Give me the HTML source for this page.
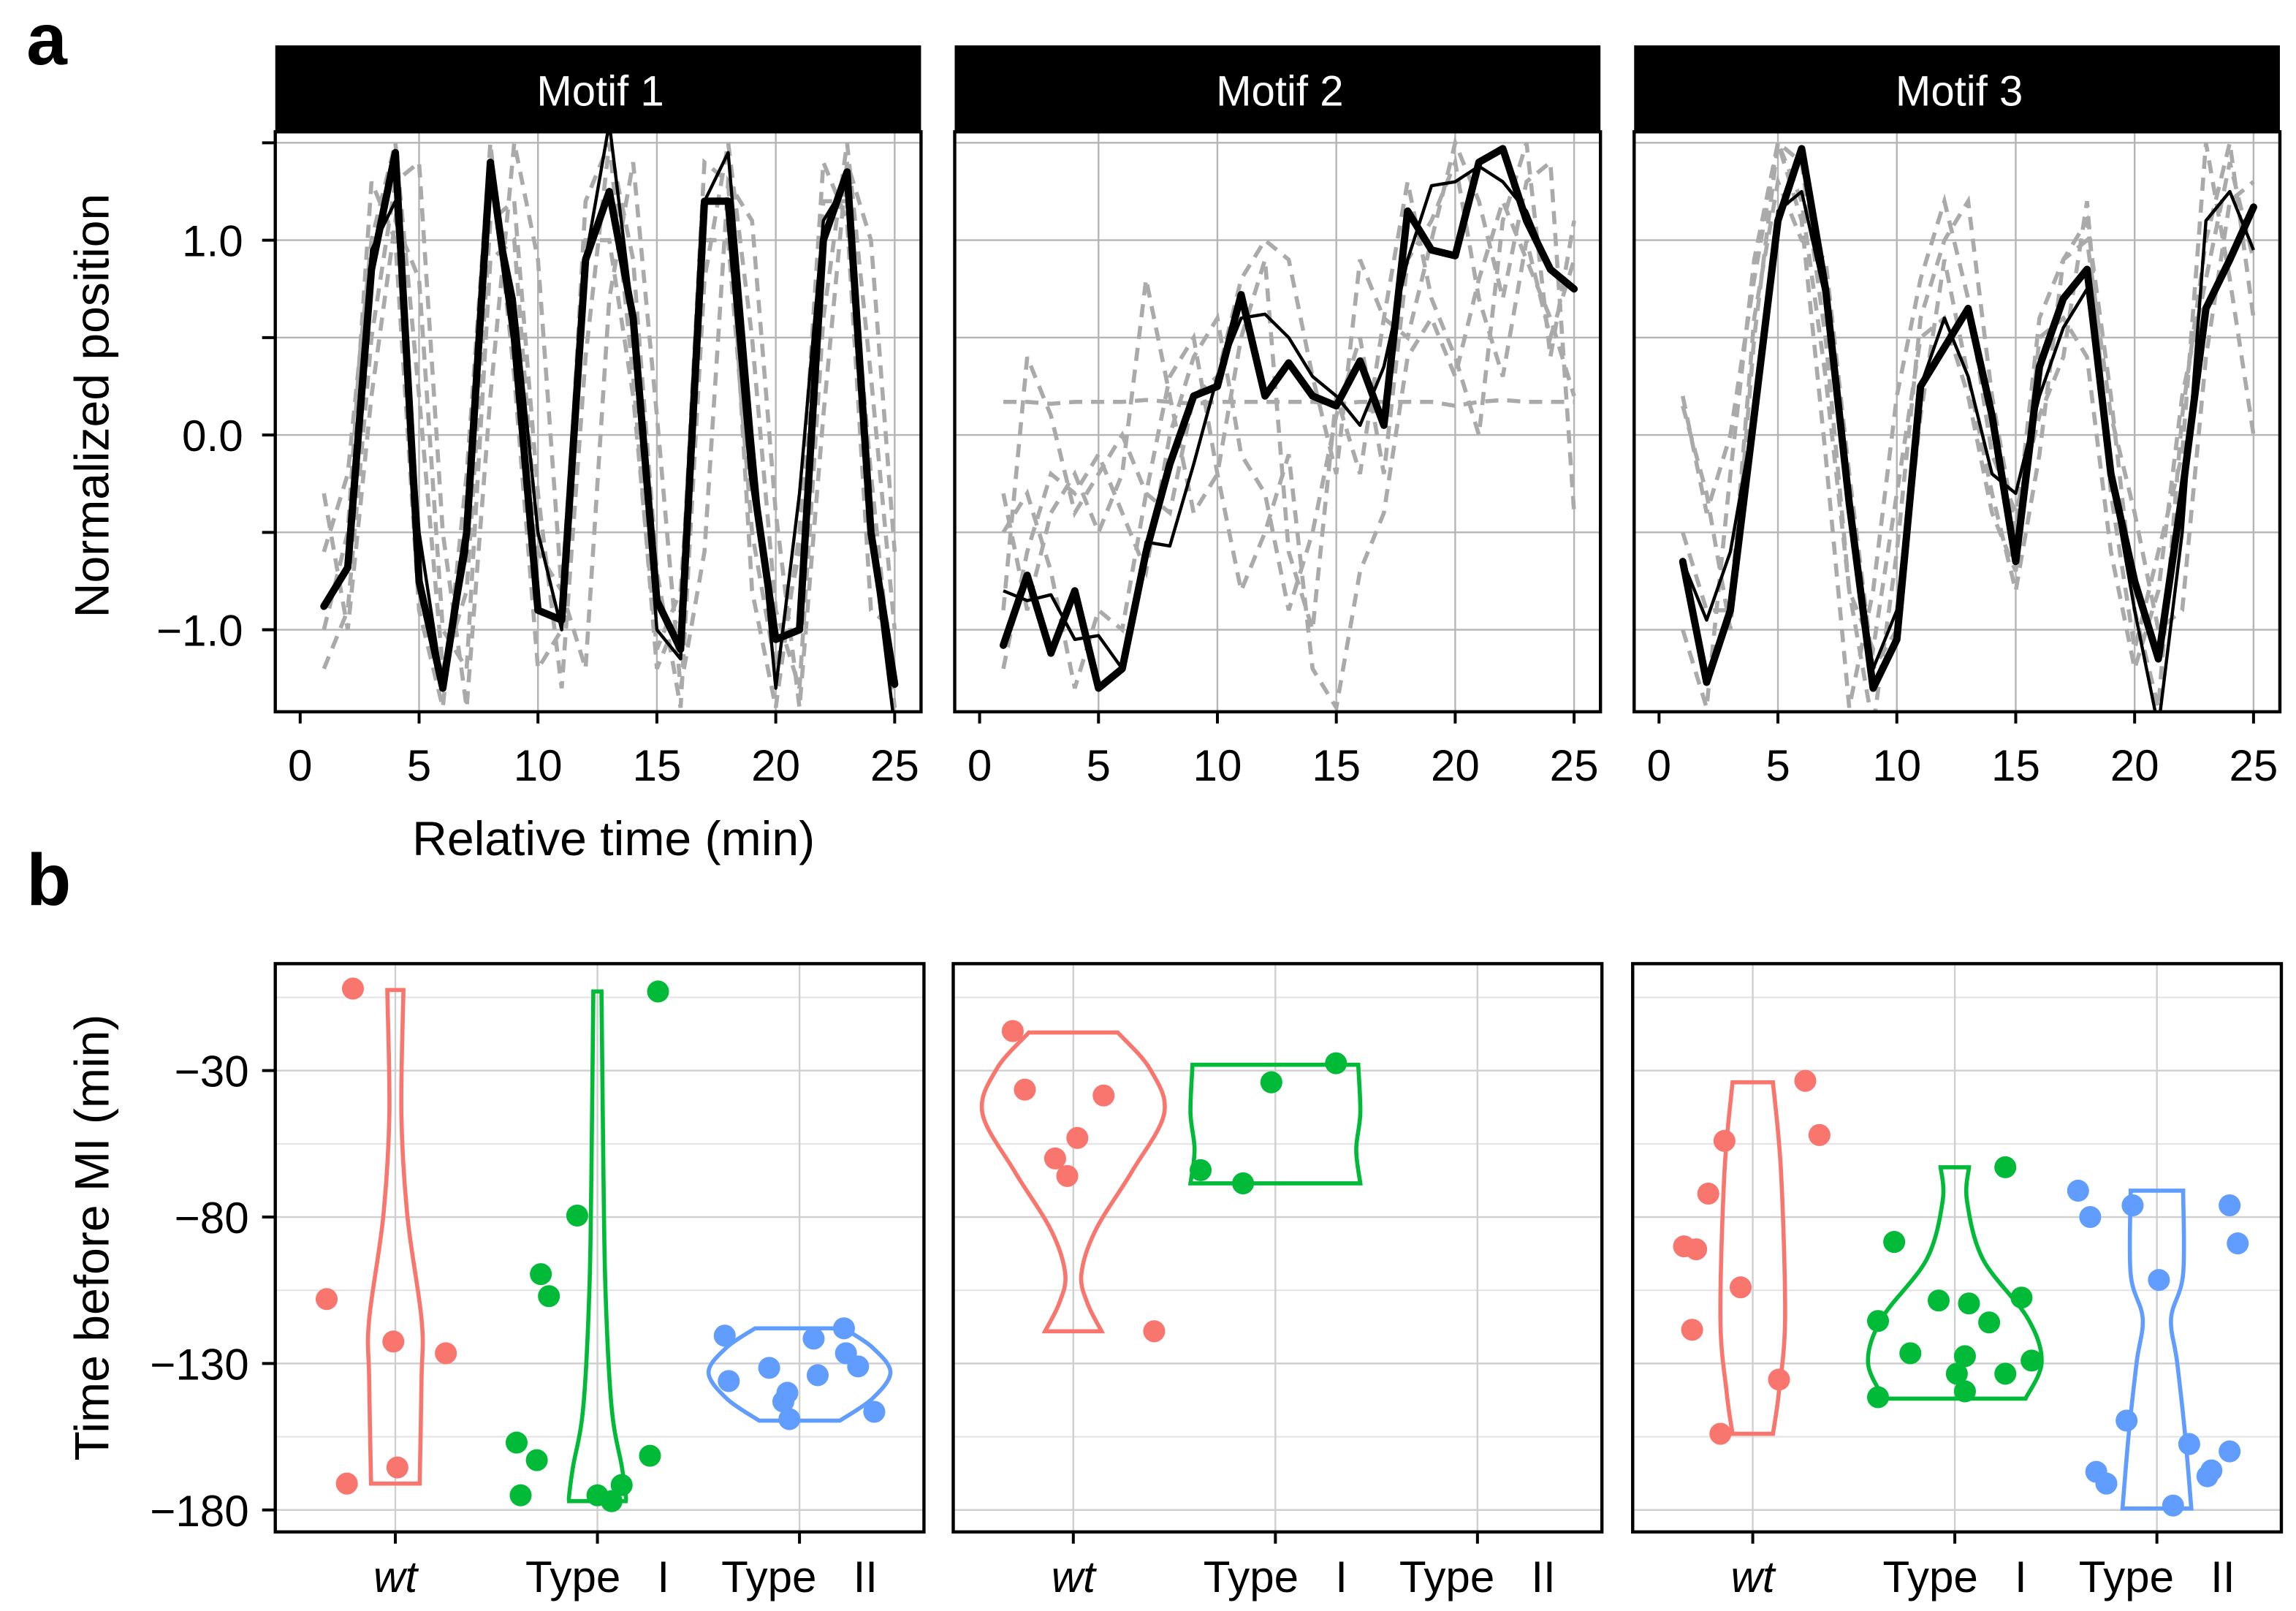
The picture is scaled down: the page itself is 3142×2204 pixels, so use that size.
<!DOCTYPE html>
<html><head><meta charset="utf-8">
<style>
html,body{margin:0;padding:0;background:#fff;}
svg{display:block;font-family:"Liberation Sans",sans-serif;}
</style></head>
<body>
<svg id="fig" width="3142" height="2204" viewBox="0 0 1568 1100" preserveAspectRatio="none" xmlns="http://www.w3.org/2000/svg">
<defs>
<clipPath id="ca0"><rect x="188" y="90" width="441" height="396"/></clipPath>
<clipPath id="ca1"><rect x="652" y="90" width="441" height="396"/></clipPath>
<clipPath id="ca2"><rect x="1116" y="90" width="441" height="396"/></clipPath>
</defs>
<text x="18" y="44" font-size="50" font-weight="bold">a</text>
<text x="18" y="618" font-size="50" font-weight="bold">b</text>
<text transform="translate(74,277) rotate(-90)" text-anchor="middle" font-size="33">Normalized position</text>
<text x="419" y="584" text-anchor="middle" font-size="33">Relative time (min)</text>
<text transform="translate(74,845) rotate(-90)" text-anchor="middle" font-size="33">Time before MI (min)</text>
<g id="ga"></g>
<g id="gb"></g>
</svg>
<script>
// ---------- Panel a data ----------
const motifNames = ["Motif 1","Motif 2","Motif 3"];
const xTicksA = [0,5,10,15,20,25];
const yTicksA = [1.0,0.0,-1.0];
const yTickLabelsA = ["1.0","0.0","\u22121.0"];
const m1Bold = [-0.88,-0.68,0.85,1.45,-0.75,-1.3,-0.5,1.4,0.5,-0.9,-0.95,0.9,1.25,0.6,-0.85,-1.1,1.2,1.2,-0.2,-1.05,-1.0,1.0,1.35,-0.5,-1.28];
const m1Thin = [-0.88,-0.68,0.95,1.2,-0.5,-1.3,-0.6,1.3,0.7,-0.5,-1.0,0.9,1.6,0.6,-1.0,-1.15,1.2,1.45,0.0,-1.3,-0.3,1.1,1.3,-0.5,-1.5];
const m2Bold = [-1.08,-0.72,-1.12,-0.8,-1.3,-1.2,-0.6,-0.15,0.2,0.25,0.72,0.2,0.37,0.2,0.15,0.38,0.05,1.15,0.95,0.92,1.4,1.47,1.1,0.85,0.75];
const m2Thin = [-0.8,-0.85,-0.82,-1.05,-1.03,-1.2,-0.55,-0.57,-0.15,0.3,0.6,0.62,0.5,0.3,0.2,0.05,0.35,0.9,1.28,1.3,1.38,1.3,1.15,0.85,0.75];
const m3Bold = [-0.65,-1.27,-0.9,0.1,1.1,1.47,0.75,-0.35,-1.3,-1.05,0.25,0.45,0.65,0.1,-0.65,0.35,0.7,0.85,-0.2,-0.75,-1.15,-0.3,0.65,0.9,1.17];
const m3Thin = [-0.65,-0.95,-0.6,0.1,1.15,1.25,0.7,-0.35,-1.2,-0.9,0.25,0.6,0.3,-0.2,-0.3,0.2,0.55,0.75,-0.2,-0.9,-1.5,-0.5,1.1,1.25,0.95];
const g1a = [-0.6,-0.2,1.0,1.5,0.2,-1.2,-0.8,1.1,1.2,-0.3,-1.3,0.4,1.5,0.9,-0.7,-1.4,0.8,1.5,0.5,-0.9,-1.3,0.6,1.5,0.3,-1.0];
const g1b = [-1.2,-0.9,0.5,1.3,1.4,-0.5,-1.4,0.2,1.5,0.9,-0.8,-1.2,0.7,1.4,0.1,-1.3,-0.6,1.3,1.1,-0.4,-1.4,0.1,1.4,1.0,-0.6];
const g1c = [-0.3,-1.0,0.2,1.1,0.8,-1.0,-1.2,0.9,1.0,-0.6,-0.8,1.0,1.0,0.2,-1.1,-0.8,1.0,1.0,-0.5,-1.2,-0.6,1.2,1.2,-0.2,-1.4];
const g1d = [-1.0,-0.5,1.3,1.0,-0.9,-1.4,-0.2,1.5,0.3,-1.2,-1.0,1.2,1.5,0.3,-1.2,-0.9,1.4,1.3,-0.8,-1.4,-0.5,1.4,1.1,-0.9,-1.0];
const g2a = [-0.9,0.4,0.1,-0.4,-0.2,0.0,-0.3,-0.4,0.2,0.3,0.8,1.0,0.9,0.3,-0.2,0.9,0.6,0.5,1.0,1.5,1.2,0.7,1.3,1.4,-0.4];
const g2b = [0.17,0.17,0.16,0.17,0.17,0.17,0.18,0.17,0.16,0.17,0.17,0.17,0.17,0.17,0.16,0.17,0.17,0.17,0.17,0.15,0.17,0.18,0.17,0.17,0.17];
const g2c = [-0.5,-0.3,-0.7,-1.3,-0.9,-1.0,-0.3,0.3,0.5,-0.2,-0.8,-0.5,-0.1,-1.2,-1.4,-0.7,-0.4,0.4,0.6,0.3,0.8,1.2,0.9,0.6,0.2];
const g2d = [-1.2,-0.6,-0.2,-0.3,-0.1,-0.4,-0.7,0.0,0.4,0.6,-0.1,-0.3,-0.9,-0.5,0.1,0.5,-0.2,0.9,1.1,1.4,0.7,0.3,1.0,0.5,0.9];
const g2e = [-0.3,-0.9,-0.4,-0.2,-0.5,-0.2,0.8,0.2,-0.4,-0.2,0.5,0.9,-0.6,-1.0,0.2,-0.2,0.6,1.3,0.7,0.4,0.0,1.1,1.5,0.4,1.1];
const g3a = [0.15,-0.3,-1.0,0.5,1.5,1.2,0.3,-0.8,-1.5,-0.6,0.6,1.0,1.2,0.2,-0.5,0.6,0.9,1.1,0.2,-0.9,-1.4,0.1,1.0,1.5,0.6];
const g3b = [-1.0,-1.4,-0.2,0.9,1.5,1.4,0.5,-0.8,-1.1,-0.3,0.5,0.6,0.2,-0.4,-0.7,0.5,0.6,0.4,-0.6,-1.2,-0.8,0.2,0.8,1.4,0.9];
const g3c = [-0.5,-0.9,-0.9,0.6,1.3,1.0,0.9,-0.2,-1.2,-1.0,0.1,0.9,0.3,-0.3,-0.8,-0.1,0.9,1.0,0.1,-0.4,-1.0,-0.9,0.4,1.2,1.3];
const g3d = [0.2,-0.4,0.0,0.8,1.5,1.1,-0.1,-1.4,-0.8,0.2,0.8,1.2,0.7,-0.1,-0.4,0.1,0.4,1.2,-0.3,-1.1,-0.6,-0.1,1.5,0.8,0.0];

// ---------- Panel b data ----------
const categories = ["wt","Type I","Type II"];
const categoryLabels = ["wt","Type\u00a0\u00a0\u00a0I","Type\u00a0\u00a0\u00a0II"];
const yTicksB = [-30,-80,-130,-180];
const yMinorB = [-5,-55,-105,-155];
const p1wt = [[-2,-0.21],[-108,-0.34],[-122.5,-0.01],[-126.5,0.25],[-165.5,0.01],[-171,-0.24]];
const p1t1 = [[-3,0.3],[-79.5,-0.1],[-99.5,-0.28],[-107,-0.24],[-157,-0.4],[-163,-0.3],[-161.5,0.26],[-175,-0.38],[-175,0],[-177,0.07],[-171.5,0.12]];
const p1t2 = [[-120.5,-0.37],[-136,-0.35],[-131.5,-0.15],[-143,-0.08],[-149,-0.05],[-140,-0.06],[-121.5,0.07],[-134,0.09],[-118,0.22],[-126.5,0.23],[-131,0.29],[-146.5,0.37]];
const p2wt = [[-16.5,-0.3],[-36.5,-0.24],[-38.5,0.15],[-53,0.02],[-60,-0.09],[-66,-0.03],[-119,0.4]];
const p2t1 = [[-34,-0.02],[-27.5,0.3],[-64,-0.37],[-68.5,-0.16]];
const p3wt = [[-33.5,0.26],[-52,0.33],[-54,-0.14],[-72,-0.22],[-90,-0.34],[-91,-0.28],[-104,-0.06],[-118.5,-0.3],[-135.5,0.13],[-154,-0.16]];
const p3t1 = [[-63,0.25],[-88.5,-0.3],[-108.5,-0.08],[-109.5,0.07],[-107.5,0.33],[-116,0.17],[-115.5,-0.38],[-126.5,-0.22],[-127.5,0.05],[-133.5,0.01],[-133.5,0.25],[-129,0.38],[-141.5,-0.38],[-139.5,0.05]];
const p3t2 = [[-71,-0.39],[-80,-0.33],[-76,-0.12],[-76,0.36],[-89,0.4],[-101.5,0.01],[-149.5,-0.15],[-167,-0.3],[-171,-0.25],[-157.5,0.16],[-160,0.36],[-166.5,0.27],[-168.5,0.25],[-178.5,0.08]];
const v1wt = [[-2.5,0.04],[-45,0.03],[-80,0.06],[-115,0.13],[-135,0.13],[-171,0.12]];
const v1t1 = [[-3,0.02],[-65,0.03],[-105,0.04],[-145,0.07],[-165,0.12],[-175,0.14],[-177,0.14]];
const v1t2 = [[-118,0.22],[-124.5,0.36],[-133,0.45],[-142,0.36],[-149.5,0.2]];
const v2wt = [[-17,0.22],[-29.5,0.38],[-44.5,0.45],[-64.5,0.29],[-84.5,0.11],[-99.5,0.04],[-109.5,0.07],[-119,0.14]];
const v2t1 = [[-28,0.41],[-44.5,0.42],[-57,0.4],[-68.5,0.42]];
const v3wt = [[-34,0.1],[-64.5,0.14],[-114.5,0.16],[-139.5,0.13],[-154,0.1]];
const v3t1 = [[-63,0.07],[-74.5,0.06],[-94.5,0.14],[-114.5,0.36],[-129.5,0.43],[-142,0.35]];
const v3t2 = [[-71,0.13],[-99.5,0.13],[-114.5,0.07],[-129.5,0.1],[-154.5,0.14],[-179.5,0.17]];

const NS="http://www.w3.org/2000/svg";
function mk(tag,attrs,parent){const e=document.createElementNS(NS,tag);for(const k in attrs)e.setAttribute(k,attrs[k]);parent.appendChild(e);return e;}

const ga=document.getElementById('ga');
const panelsA=[188,652,1116];
const seriesA=[[m1Bold,m1Thin,[g1a,g1b,g1c,g1d]],[m2Bold,m2Thin,[g2a,g2b,g2c,g2d,g2e]],[m3Bold,m3Thin,[g3a,g3b,g3c,g3d]]];
function ya(v){return 297-133*v;}
panelsA.forEach((L,pi)=>{
  const xa=t=>L+17+16.24*t;
  const strip=mk('rect',{x:L,y:31,width:441,height:59,fill:'#000'},ga);
  
  
  const st=mk('text',{x:L+222,y:72,'text-anchor':'middle','font-size':29,fill:'#fff'},ga);
  st.textContent=motifNames[pi];
  
  
  [1.5,1.0,0.5,0,-0.5,-1.0].forEach(v=>{
    const g=mk('line',{x1:L,x2:L+441,y1:ya(v),y2:ya(v),stroke:'#b5b5b5','stroke-width':1.2},ga);
    
  });
  xTicksA.slice(1).forEach(t=>{
    const g=mk('line',{x1:xa(t),x2:xa(t),y1:90,y2:486,stroke:'#b5b5b5','stroke-width':1.2},ga);
    
  });
  const cg=mk('g',{'clip-path':'url(#ca'+pi+')'},ga);
  const [bold,thin,grays]=seriesA[pi];
  const pts=arr=>arr.map((v,i)=>xa(i+1).toFixed(1)+','+ya(v).toFixed(1)).join(' ');
  grays.forEach((g,gi)=>{
    const pl=mk('polyline',{points:pts(g),fill:'none',stroke:'#aaaaaa','stroke-width':2.8,'stroke-dasharray':'9,6'},cg);
    
  });
  const tl=mk('polyline',{points:pts(thin),fill:'none',stroke:'#000','stroke-width':2.2,'stroke-linejoin':'round'},cg);
  
  const bl=mk('polyline',{points:pts(bold),fill:'none',stroke:'#000','stroke-width':5,'stroke-linejoin':'round','stroke-linecap':'round'},cg);
  
  const fr=mk('rect',{x:L,y:90,width:441,height:396,fill:'none',stroke:'#000','stroke-width':2.2},ga);
  
  xTicksA.forEach(t=>{
    mk('line',{x1:xa(t),x2:xa(t),y1:486,y2:494,stroke:'#000','stroke-width':2},ga);
    const tx=mk('text',{x:xa(t),y:533,'text-anchor':'middle','font-size':30},ga);
    tx.textContent=t;
    
  });
});
[1.5,1.0,0.5,0,-0.5,-1.0].forEach(v=>mk('line',{x1:179,x2:188,y1:ya(v),y2:ya(v),stroke:'#000','stroke-width':2},ga));
yTicksA.forEach((v,i)=>{
  const tx=mk('text',{x:166,y:ya(v)+11,'text-anchor':'end','font-size':30},ga);
  tx.textContent=yTickLabelsA[i];
  
});

const gb=document.getElementById('gb');
const panelsB=[188,651,1115];
const colors=['#F8766D','#00BA38','#619CFF'];
const pointsB=[[p1wt,p1t1,p1t2],[p2wt,p2t1,null],[p3wt,p3t1,p3t2]];
const violinsB=[[v1wt,v1t1,v1t2],[v2wt,v2t1,null],[v3wt,v3t1,v3t2]];
function yb(t){return 731-2*(t+30);}
function smoothPath(p){
  let d='M'+p[0][0]+','+p[0][1];
  for(let i=0;i<p.length-1;i++){
    const p0=p[Math.max(0,i-1)],p1=p[i],p2=p[i+1],p3=p[Math.min(p.length-1,i+2)];
    const c1=[p1[0]+(p2[0]-p0[0])/6,p1[1]+(p2[1]-p0[1])/6];
    const c2=[p2[0]-(p3[0]-p1[0])/6,p2[1]-(p3[1]-p1[1])/6];
    d+=' C'+c1[0].toFixed(1)+','+c1[1].toFixed(1)+' '+c2[0].toFixed(1)+','+c2[1].toFixed(1)+' '+p2[0].toFixed(1)+','+p2[1].toFixed(1);
  }
  return d;
}
panelsB.forEach((L,pi)=>{
  const W=443, unit=138;
  const xc=ci=>L+82+unit*ci;
  yMinorB.forEach(v=>mk('line',{x1:L,x2:L+W,y1:yb(v),y2:yb(v),stroke:'#e3e3e3','stroke-width':1},gb));
  yTicksB.forEach(v=>{
    const g=mk('line',{x1:L,x2:L+W,y1:yb(v),y2:yb(v),stroke:'#cfcfcf','stroke-width':1.2},gb);
    
  });
  categories.forEach((c,ci)=>{
    mk('line',{x1:xc(ci),x2:xc(ci),y1:658,y2:1046,stroke:'#cfcfcf','stroke-width':1.2},gb);
    mk('line',{x1:xc(ci),x2:xc(ci),y1:1046,y2:1054,stroke:'#000','stroke-width':2},gb);
    const tx=mk('text',{x:xc(ci),y:1087,'text-anchor':'middle','font-size':30,'font-style':ci===0?'italic':'normal'},gb);
    tx.textContent=categoryLabels[ci];
    
    
  });
  violinsB[pi].forEach((v,ci)=>{
    if(!v)return;
    const right=v.map(([t,w])=>[xc(ci)+w*unit,yb(t)]);
    const left=v.map(([t,w])=>[xc(ci)-w*unit,yb(t)]).reverse();
    const d=smoothPath(right)+' L'+left[0][0].toFixed(1)+','+left[0][1].toFixed(1)+' '+smoothPath(left).slice(1).replace(/^[^C]*/,'')+' Z';
    const p=mk('path',{d:d,fill:'none',stroke:colors[ci],'stroke-width':2.8},gb);
    
    
  });
  pointsB[pi].forEach((ps,ci)=>{
    if(!ps)return;
    ps.forEach(([t,j])=>{
      const c=mk('circle',{cx:xc(ci)+j*unit,cy:yb(t),r:7.5,fill:colors[ci]},gb);
      
      
    });
  });
  const fr=mk('rect',{x:L,y:658,width:W,height:388,fill:'none',stroke:'#000','stroke-width':2.2},gb);
  
});
yTicksB.forEach(v=>{
  mk('line',{x1:179,x2:188,y1:yb(v),y2:yb(v),stroke:'#000','stroke-width':2},gb);
  const tx=mk('text',{x:170,y:yb(v)+11,'text-anchor':'end','font-size':30},gb);
  tx.textContent=String(v).replace('-','\u2212');
  
});
</script>
</body></html>
